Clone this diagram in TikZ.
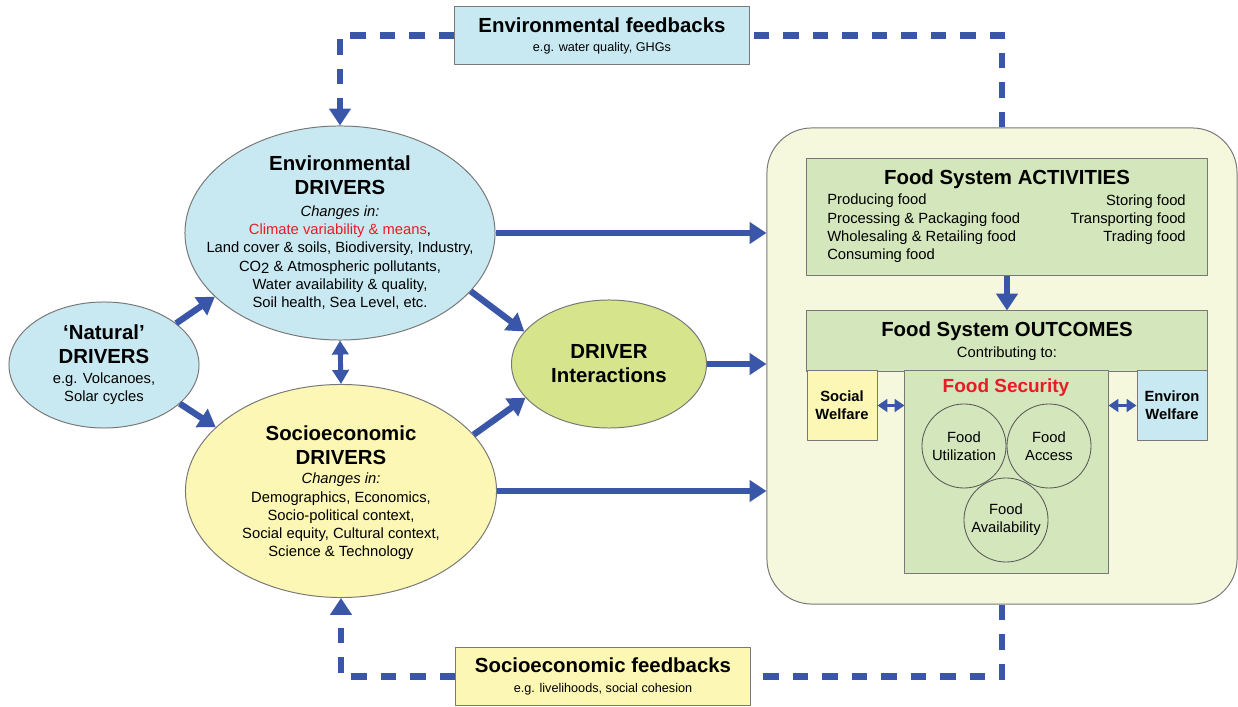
\documentclass[tikz,border=0pt]{standalone}
\usepackage{fontspec}
\setmainfont{Liberation Sans}
\usetikzlibrary{arrows.meta,shapes.geometric}
\definecolor{arrowblue}{RGB}{58,86,168}
\definecolor{envblue}{RGB}{200,233,242}
\definecolor{socyellow}{RGB}{252,247,180}
\definecolor{intgreen}{RGB}{214,228,140}
\definecolor{sysbg}{RGB}{245,248,221}
\definecolor{boxgreen}{RGB}{212,230,188}
\definecolor{edgegray}{RGB}{120,120,120}
\definecolor{alertred}{RGB}{232,28,36}
\begin{document}
\begin{tikzpicture}[x=0.025cm,y=-0.025cm,line join=round,
	bord/.style={draw=edgegray,line width=0.7pt,inner sep=0pt},
	drv/.style={bord,ellipse},
	box/.style={bord,rectangle},
	ring/.style={draw=black!65,line width=0.6pt,circle,minimum size=2.1cm,inner sep=0pt,font=\fontsize{10.5}{13}\selectfont,align=center},
	ttl/.style={font=\fontsize{14.5}{17}\selectfont\bfseries,align=center,inner sep=0pt},
	txt/.style={font=\fontsize{10.5}{13}\selectfont,align=center,inner sep=0pt},
	note/.style={font=\fontsize{9}{11}\selectfont,inner sep=0pt},
	tip/.style={-{Triangle[length=12pt,width=15pt]}},
	flow/.style={arrowblue,line width=4.5pt,tip},
	fb/.style={arrowblue,line width=4.5pt,line join=miter,dash pattern=on 11pt off 10pt},
	twin/.style={arrowblue,line width=3.5pt,{Triangle[length=10pt,width=11.5pt]}-{Triangle[length=10pt,width=11.5pt]}},
	link/.style={arrowblue,line width=2.8pt,{Triangle[length=7pt,width=9pt]}-{Triangle[length=7pt,width=9pt]}}]
	\useasboundingbox (0,0) rectangle (1238,707);
	\node[box,fill=sysbg,rounded corners=32pt,minimum width=11.75cm,minimum height=11.9cm] (system) at (1002,366) {};
	\node[box,fill=envblue,minimum width=7.35cm,minimum height=1.425cm] (envfb) at (602,35.5) {};
	\node[box,fill=socyellow,minimum width=7.35cm,minimum height=1.425cm] (socfb) at (603,676.5) {};
	\node[ttl] (envfbttl) at (602,25) {Environmental feedbacks};
	\node[note] (envfbtxt) at (602,48) {e.g. water quality, GHGs};
	\node[ttl] (socfbttl) at (603,665) {Socioeconomic feedbacks};
	\node[note] (socfbtxt) at (603,689) {e.g. livelihoods, social cohesion};
	\node[drv,fill=envblue,minimum width=7.75cm,minimum height=5.35cm] (env) at (340,233) {};
	\node[drv,fill=socyellow,minimum width=7.775cm,minimum height=5.325cm] (soc) at (341,491) {};
	\node[drv,fill=envblue,minimum width=4.75cm,minimum height=3.15cm] (nat) at (104,365) {};
	\node[drv,ttl,fill=intgreen,minimum width=4.875cm,minimum height=3.2cm] (drv) at (609,364) {DRIVER\\Interactions};
	\draw[fb,tip] (envfb.west) -| (env.north);
	\draw[fb] (system.north) |- (envfb.east);
	\draw[fb,tip] (socfb.west) -| (soc.south);
	\draw[fb] (system.south) |- (socfb.east);
	\node[ttl] (envttl) at (340,175) {Environmental\\DRIVERS};
	\node[txt] (envtxt) at (340,257.5) {\textit{Changes in:}\\\textcolor{alertred}{Climate variability \& means},\\Land cover \& soils, Biodiversity, Industry,\\CO\raisebox{-0.3ex}{2} \& Atmospheric pollutants,\\Water availability \& quality,\\Soil health, Sea Level, etc.};
	\node[ttl] (socttl) at (341,445) {Socioeconomic\\DRIVERS};
	\node[txt] (soctxt) at (341,516.5) {\textit{Changes in:}\\Demographics, Economics,\\Socio-political context,\\Social equity, Cultural context,\\Science \& Technology};
	\node[ttl] (natttl) at (104,344.5) {`Natural'\\DRIVERS};
	\node[txt] (nattxt) at (104,389) {e.g. Volcanoes,\\Solar cycles};
	\draw[flow] (nat.30) -- (env.207);
	\draw[flow] (nat.-27) -- (soc.153);
	\draw[flow] (env.-24) -- (drv.159);
	\draw[flow] (soc.23) -- (drv.202);
	\draw[twin] (env.south) -- (soc.north);
	\foreach \n in {env,drv,soc}
	\draw[flow] (\n.east) -- (\n.east -| system.west);
	\node[box,fill=boxgreen,minimum width=10cm,minimum height=2.9cm] (act) at (1007,217) {};
	\node[ttl] (actttl) at (1007,179) {Food System ACTIVITIES};
	\node[txt,anchor=west,align=left] (actl) at (827,228.5) {Producing food\\Processing \& Packaging food\\Wholesaling \& Retailing food\\Consuming food};
	\node[txt,anchor=east,align=right] (actr) at (1186,219.5) {Storing food\\Transporting food\\Trading food};
	\node[box,fill=boxgreen,minimum width=10cm,minimum height=1.5cm] (out) at (1007,341) {};
	\node[ttl] (outttl) at (1007,331) {Food System OUTCOMES};
	\node[txt] (outtxt) at (1007,354) {Contributing to:};
	\draw[flow] (act.south) -- (out.north);
	\node[box,fill=boxgreen,minimum width=5.075cm,minimum height=5.05cm] (fsec) at (1006.5,472) {};
	\node[ttl,font=\fontsize{13.5}{16}\selectfont\bfseries,text=alertred] (fsecttl) at (1006,388) {Food Security};
	\node[box,txt,fill=socyellow,font=\fontsize{10.5}{13}\selectfont\bfseries,minimum width=1.75cm,minimum height=1.725cm] (socw) at (842,405.5) {Social\\Welfare};
	\node[box,txt,fill=envblue,font=\fontsize{10.5}{13}\selectfont\bfseries,minimum width=1.75cm,minimum height=1.725cm] (envw) at (1172,405.5) {Environ\\Welfare};
	\draw[link] (socw.east) -- (socw.east -| fsec.west);
	\draw[link] (envw.west -| fsec.east) -- (envw.west);
	\node[ring] (util) at (964,446) {Food\\Utilization};
	\node[ring] (access) at (1049,446) {Food\\Access};
	\node[ring] (avail) at (1006,520) {Food\\Availability};
\end{tikzpicture}
\end{document}
